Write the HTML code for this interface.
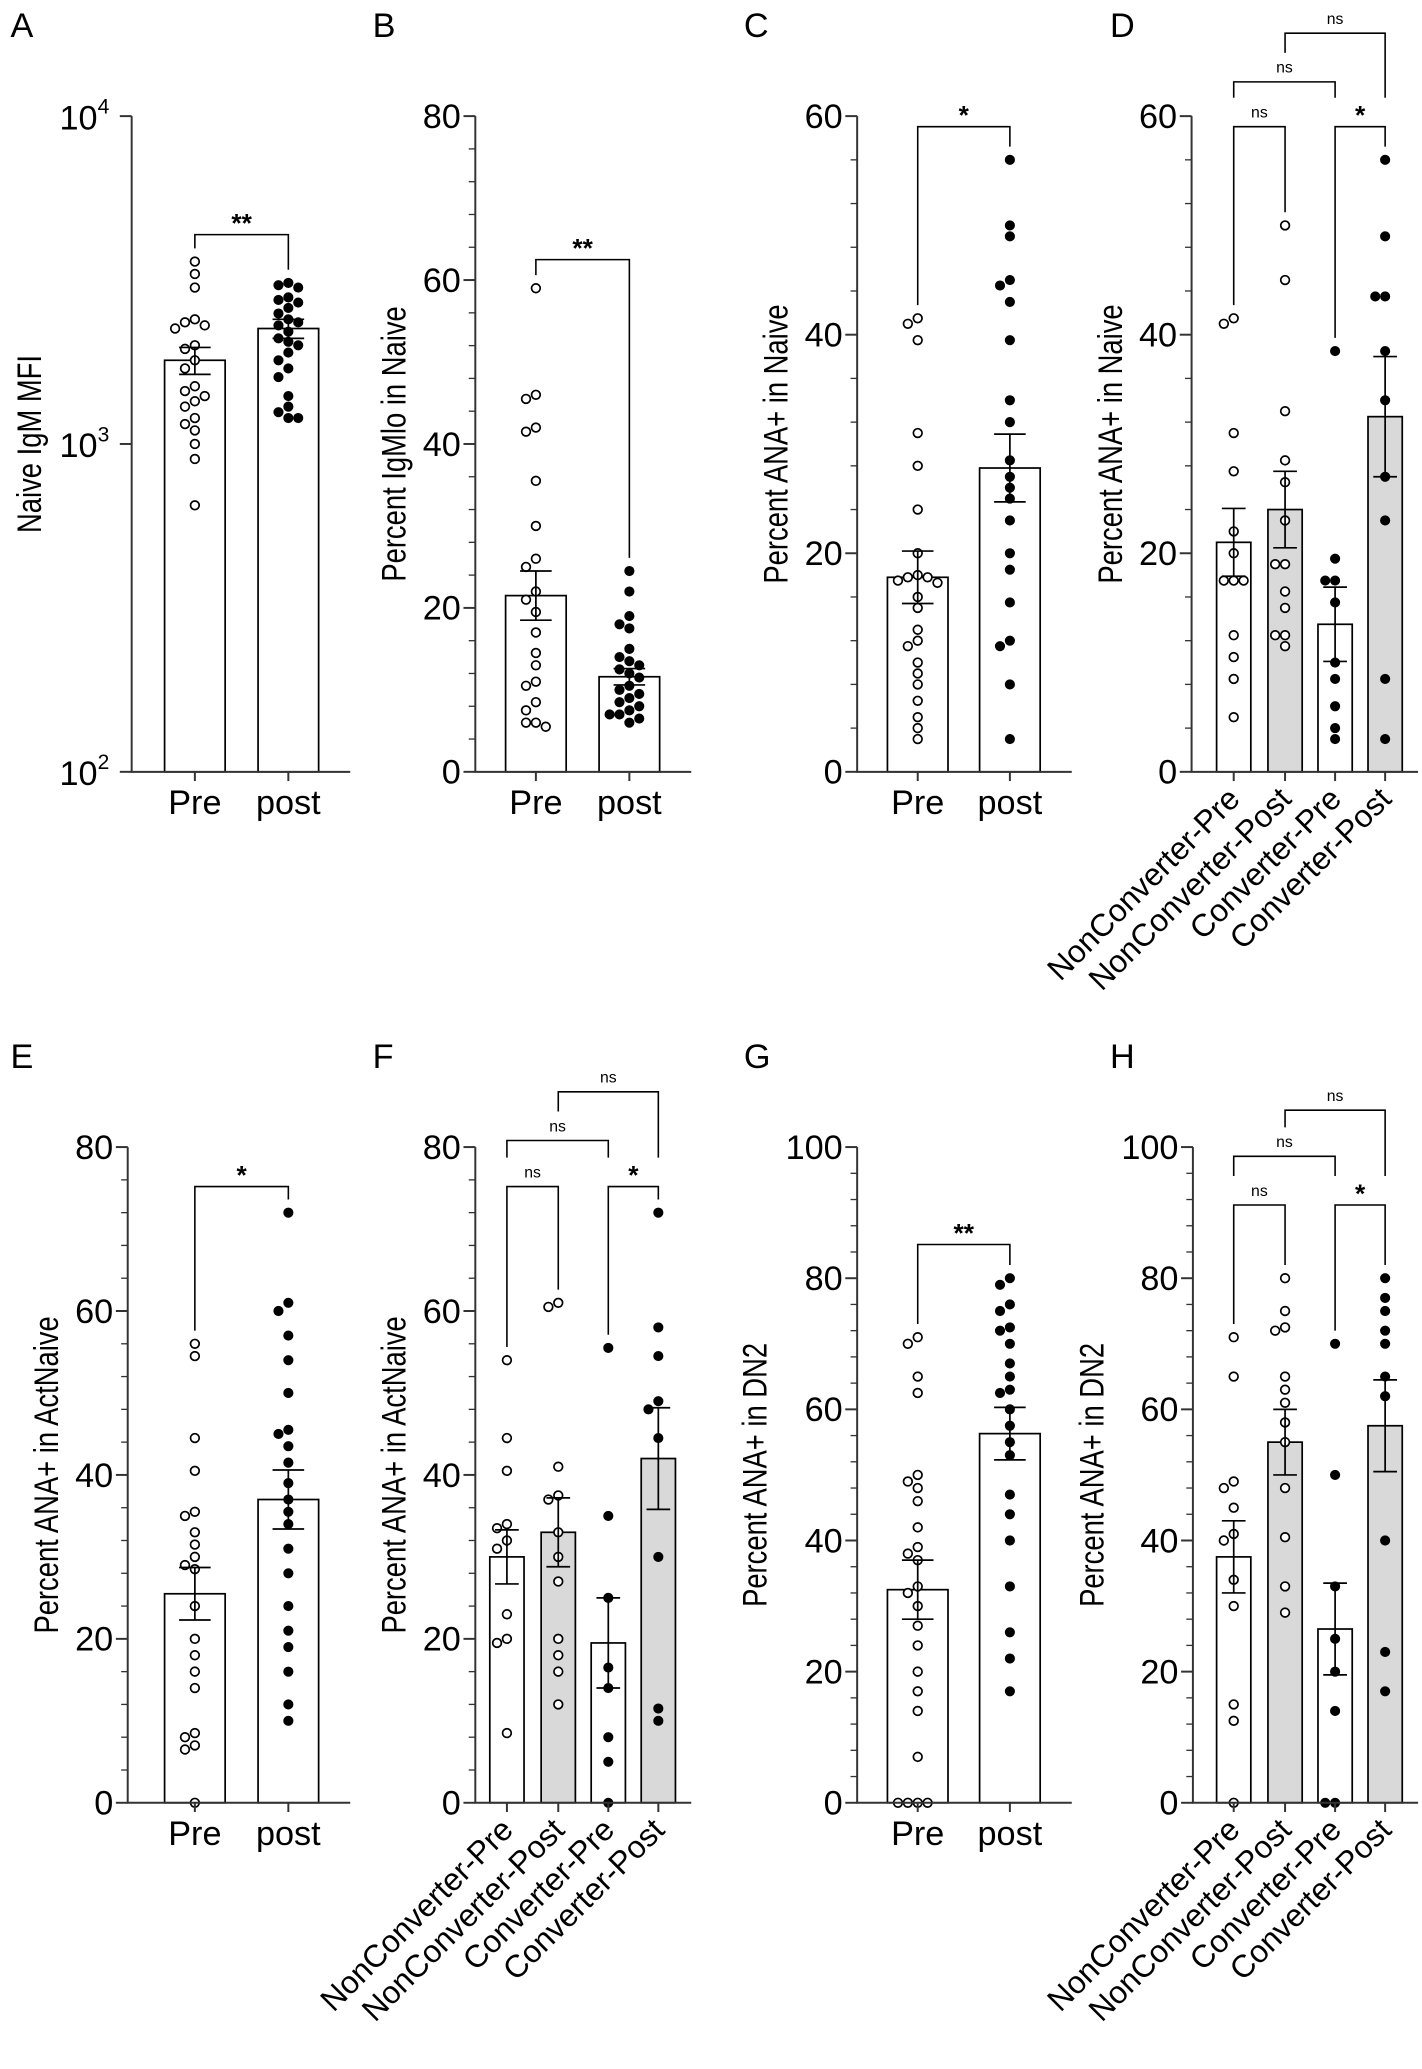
<!DOCTYPE html>
<html><head><meta charset="utf-8">
<style>
html,body{margin:0;padding:0;background:#fff;}
svg{display:block;font-family:"Liberation Sans",Arial,sans-serif;}
</style></head>
<body>
<svg id="fig" width="1422" height="2069" viewBox="0 0 1080 1571" xmlns="http://www.w3.org/2000/svg"></svg>
<script>
// ---------- Panel data ----------
const catsTwo = ["Pre","post"];
const catsFour = ["NonConverter-Pre","NonConverter-Post","Converter-Pre","Converter-Post"];

const aMeans = [1800, 2250];
const aSem = [170, 150];
const aPre = [3600,3300,3000,2400,2350,2300,2250,2000,1950,1800,1700,1500,1450,1400,1350,1300,1200,1150,1100,1000,900,650];
const aPost = [3100,3050,3000,2800,2750,2700,2600,2500,2400,2350,2300,2200,2100,2050,2000,1900,1800,1700,1600,1400,1300,1250,1200,1200];

const bMeans = [21.5, 11.6];
const bSem = [3.0, 1.0];
const bPre = [59,46,45.5,42,41.5,35.5,30,26,25,22,21,19.5,17,14.5,13,11,10.5,8.5,7.5,6,6,5.5];
const bPost = [24.5,22,19,18,17.5,15,14,13.5,13,12.5,12,11.5,10.5,10,9.5,9,8.5,8,7.5,7,7,6.5,6];

const cMeans = [17.8, 27.8];
const cSem = [2.4, 3.1];
const cPre = [41.5,41,39.5,31,28,24,20,18,17.8,17.8,17.5,17.3,16,15,13,12,11.5,10,9,8,6.5,5,4,3];
const cPost = [56,50,49,45,44.5,43,39.5,34,32,28.5,27,26,25,23,20,18.5,15.5,12,11.5,8,3];

const dMeans = [21, 24, 13.5, 32.5];
const dSem = [3.1, 3.5, 3.4, 5.5];
const dNCPre = [41,41.5,31,27.5,22,20,17.5,17.5,17.5,12.5,10.5,8.5,5];
const dNCPost = [50,45,33,28.5,26.5,23,19,19,16.5,15,12.5,12.5,11.5];
const dCPre = [38.5,19.5,17.5,17.5,15.5,10,8.5,6,4,3];
const dCPost = [56,49,43.5,43.5,38.5,34,27,23,8.5,3];

const eMeans = [25.5, 37];
const eSem = [3.2, 3.6];
const ePre = [56,54.5,44.5,40.5,35.5,35,33,31.5,30,29,28.5,24,20,18,16,14,8.5,8,7,6.5,0];
const ePost = [72,61,60,57,54,50,45.5,45,43.5,41.5,39,37,35.5,34,31,28,24,21,19,16,12,10];

const fMeans = [30, 33, 19.5, 42];
const fSem = [3.3, 4.2, 5.5, 6.2];
const fNCPre = [54,44.5,40.5,34,33.5,32,31,23,20,19.5,8.5];
const fNCPost = [61,60.5,41,37.5,37,33,30,27,20,18,16,12];
const fCPre = [55.5,35,25,16.5,14,8,5,0];
const fCPost = [72,58,54.5,49,48,44.5,30,11.5,10];

const gMeans = [32.5, 56.3];
const gSem = [4.5, 4.0];
const gPre = [71,70,65,62.5,50,49,48,46,42,39,38,37,33,32,30,27,24,20,17,14,7,0,0,0,0];
const gPost = [80,79,76,75,72.5,72,70,67,65,63,62.5,60,57.5,55,53,47,44,40,33,26,22,17];

const hMeans = [37.5, 55, 26.5, 57.5];
const hSem = [5.5, 5, 7, 7];
const hNCPre = [71,65,49,48,45,41,40,34,30,15,12.5,0];
const hNCPost = [80,75,72.5,72,65,63,61,58,55,48,40.5,33,29];
const hCPre = [70,50,33,25,20,14,0,0];
const hCPost = [80,77,75,72,70,65,62,40,23,17];

const ticksB = [0,20,40,60,80];
const ticksC = [0,20,40,60];
const ticksG = [0,20,40,60,80,100];

// ---------- drawing helpers ----------
const NS="http://www.w3.org/2000/svg";
const svg=document.getElementById('fig');
function mk(tag,attrs,parent){const e=document.createElementNS(NS,tag);for(const k in attrs)e.setAttribute(k,attrs[k]);(parent||svg).appendChild(e);return e;}

function panel(cfg){
  const g=mk('g',{});
  
  
  const top=cfg.top, bot=cfg.top+498, ax=cfg.ax;
  const y = cfg.log ? v=>bot-(Math.log10(v)-2)/2*(bot-top) : v=>bot-v/cfg.ymax*(bot-top);
  const L=mk('text',{x:cfg.letterX,y:top-60,'font-size':26},g);L.textContent=cfg.letter;
  
  
  const n=cfg.groups.length;
  const hw=n==2?23:13;
  cfg.groups.forEach((vals,i)=>{
    const cx=cfg.centers[i];
    const yb=y(cfg.means[i]);
    const r=mk('rect',{x:cx-hw,y:yb,width:hw*2,height:bot-yb,fill:cfg.fills[i],stroke:'#000','stroke-width':1.3},g);
    
    
  });
  cfg.groups.forEach((vals,i)=>{
    const cx=cfg.centers[i];
    const placed=[];
    const sorted=vals.slice().sort((a,b)=>b-a);
    sorted.forEach(v=>{
      const yy=y(v);
      const offs=[0,-7.5,7.5,-15,15,-22.5,22.5];
      let ox=0;
      for(const o of offs){
        if(!placed.some(p=>Math.hypot(p[0]-o,p[1]-yy)<7.5)){ox=o;break;}
      }
      placed.push([ox,yy]);
      const c=mk('circle',{cx:cx+ox,cy:yy,r:cfg.filled[i]?3.6:3.3,fill:cfg.filled[i]?'#000':'#fff',stroke:'#000','stroke-width':cfg.filled[i]?0.5:1.3},g);
      
      
    });
  });
  cfg.groups.forEach((vals,i)=>{
    const cx=cfg.centers[i];
    const m=cfg.means[i], s=cfg.sem[i];
    const y1=y(m+s), y2=y(m-s);
    const w=n==2?12:9;
    mk('path',{d:`M${cx},${y1}V${y2}M${cx-w},${y1}H${cx+w}M${cx-w},${y2}H${cx+w}`,stroke:'#000','stroke-width':1.3,fill:'none'},g);
  });
  const right=cfg.centers[n-1]+hw+(n==2?24:12);
  mk('path',{d:`M${ax},${top}V${bot}H${right}`,stroke:'#333','stroke-width':1.5,fill:'none'},g);
  cfg.centers.forEach(cx=>mk('line',{x1:cx,x2:cx,y1:bot,y2:bot+7,stroke:'#333','stroke-width':1.5},g));
  if(cfg.log){
    [2,3,4].forEach(p=>{
      const yy=y(Math.pow(10,p));
      mk('line',{x1:ax-9,x2:ax,y1:yy,y2:yy,stroke:'#333','stroke-width':1.5},g);
      const t=mk('text',{x:ax-17,y:yy+10,'font-size':26,'text-anchor':'end'},g);
      t.innerHTML='10<tspan dy="-12" font-size="16">'+p+'</tspan>';
      
      
    });
  } else {
    const tk=cfg.ticks, step=tk[1]-tk[0];
    for(let v=0; v<=cfg.ymax+1e-6; v+=step/5){
      const yy=y(v);
      mk('line',{x1:ax-5,x2:ax,y1:yy,y2:yy,stroke:'#333','stroke-width':1},g);
    }
    tk.forEach(v=>{
      const yy=y(v);
      mk('line',{x1:ax-9,x2:ax,y1:yy,y2:yy,stroke:'#333','stroke-width':1.5},g);
      const t=mk('text',{x:ax-11,y:yy+9,'font-size':26,'text-anchor':'end'},g);
      t.textContent=v;
      
      
    });
  }
  const tt=mk('text',{x:0,y:0,'font-size':26,'text-anchor':'middle',transform:`translate(${cfg.titleX},${(top+bot)/2}) rotate(-90)`},g);
  tt.textContent=cfg.title;
  
  
  try{const len=tt.getComputedTextLength();tt.setAttribute('textLength',len*0.8);tt.setAttribute('lengthAdjust','spacingAndGlyphs');}catch(e){}
  cfg.centers.forEach((cx,i)=>{
    let t;
    if(n==2){ t=mk('text',{x:cx,y:bot+32,'font-size':26,'text-anchor':'middle'},g); }
    else { t=mk('text',{x:0,y:0,'font-size':24,'text-anchor':'end',transform:`translate(${cx+6},${bot+22}) rotate(-45)`},g); }
    t.textContent=cfg.cats[i];
    
    
  });
  const occ=cfg.groups.map(v=>y(Math.max(...v, 0))-10);
  cfg.brackets.forEach(b=>{
    const [i,j,by,lab]=b;
    const x1=cfg.centers[i], x2=cfg.centers[j];
    mk('path',{d:`M${x1},${occ[i]}V${by}H${x2}V${occ[j]}`,stroke:'#000','stroke-width':1.2,fill:'none'},g);
    const star=lab!=='ns';
    const t=mk('text',{x:(x1+x2)/2,y:star?by-2:by-7,'font-size':star?20:12,'font-weight':star?'bold':'normal','text-anchor':'middle'},g);
    t.textContent=lab;
    
    
    for(let k=i;k<=j;k++) occ[k]=Math.min(occ[k],by-22);
  });
}

const W2=['#fff','#fff'], F2=[false,true], W4=['#fff','#d9d9d9','#fff','#d9d9d9'], F4=[false,false,true,true];
panel({letter:'A',letterX:8,top:88,ax:100,log:true,title:'Naive IgM MFI',titleX:31,centers:[148,219],cats:catsTwo,groups:[aPre,aPost],means:aMeans,sem:aSem,fills:W2,filled:F2,brackets:[[0,1,178,'**']]});
panel({letter:'B',letterX:283,top:88,ax:361,ymax:80,ticks:ticksB,title:'Percent IgMlo in Naive',titleX:308,centers:[407,478],cats:catsTwo,groups:[bPre,bPost],means:bMeans,sem:bSem,fills:W2,filled:F2,brackets:[[0,1,197,'**']]});
panel({letter:'C',letterX:565,top:88,ax:651,ymax:60,ticks:ticksC,title:'Percent ANA+ in Naive',titleX:598,centers:[697,767],cats:catsTwo,groups:[cPre,cPost],means:cMeans,sem:cSem,fills:W2,filled:F2,brackets:[[0,1,96,'*']]});
panel({letter:'D',letterX:843,top:88,ax:905,ymax:60,ticks:ticksC,title:'Percent ANA+ in Naive',titleX:852,centers:[937,976,1014,1052],cats:catsFour,groups:[dNCPre,dNCPost,dCPre,dCPost],means:dMeans,sem:dSem,fills:W4,filled:F4,brackets:[[0,1,96,'ns'],[2,3,96,'*'],[0,2,62,'ns'],[1,3,25,'ns']]});
panel({letter:'E',letterX:8,top:871,ax:97,ymax:80,ticks:ticksB,title:'Percent ANA+ in ActNaive',titleX:44,centers:[148,219],cats:catsTwo,groups:[ePre,ePost],means:eMeans,sem:eSem,fills:W2,filled:F2,brackets:[[0,1,901,'*']]});
panel({letter:'F',letterX:283,top:871,ax:361,ymax:80,ticks:ticksB,title:'Percent ANA+ in ActNaive',titleX:308,centers:[385,424,462,500],cats:catsFour,groups:[fNCPre,fNCPost,fCPre,fCPost],means:fMeans,sem:fSem,fills:W4,filled:F4,brackets:[[0,1,901,'ns'],[2,3,901,'*'],[0,2,866,'ns'],[1,3,829,'ns']]});
panel({letter:'G',letterX:565,top:871,ax:651,ymax:100,ticks:ticksG,title:'Percent ANA+ in DN2',titleX:582,centers:[697,767],cats:catsTwo,groups:[gPre,gPost],means:gMeans,sem:gSem,fills:W2,filled:F2,brackets:[[0,1,945,'**']]});
panel({letter:'H',letterX:843,top:871,ax:906,ymax:100,ticks:ticksG,title:'Percent ANA+ in DN2',titleX:838,centers:[937,976,1014,1052],cats:catsFour,groups:[hNCPre,hNCPost,hCPre,hCPost],means:hMeans,sem:hSem,fills:W4,filled:F4,brackets:[[0,1,915,'ns'],[2,3,915,'*'],[0,2,878,'ns'],[1,3,843,'ns']]});
</script>
</body></html>
